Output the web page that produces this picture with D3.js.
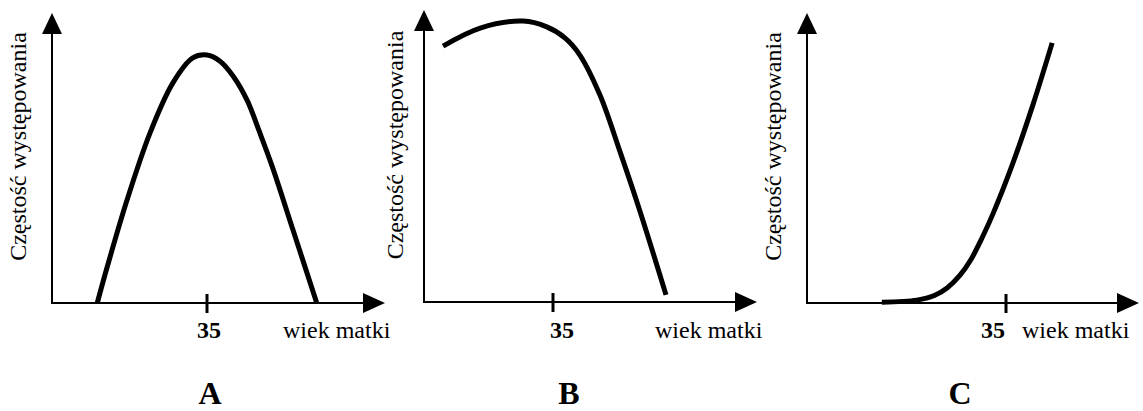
<!DOCTYPE html>
<html lang="pl">
  <head>
    <title>Częstość występowania a wiek matki</title>
    <meta charset="utf-8">
    <script src="https://d3js.org/d3.v7.min.js"></script>
    <style>
      body { margin: 0; background: #fff; }
      text { font-family: "Liberation Serif", "Times New Roman", serif; fill: #000; }
    </style>
  </head>
  <body>
    <svg></svg>

    <script>
      // dane (wiek matki, częstość w jednostkach względnych)
      const litery = ['A', 'B', 'C']
      const podpisX = 'wiek matki'
      const podpisY = 'Częstość występowania'
      const znacznik = 35

      const wiekA = [17.3, 18.9, 22.1, 25.8, 29.5, 32.7, 35.0, 37.1, 39.2, 41.5, 43.5, 45.5, 48.9, 52.7]
      const czestoscA = [0, 12.4, 35.5, 58.6, 75.9, 84.5, 85.5, 83.4, 78.3, 69.8, 58.8, 47.2, 25.0, 0]

      const wiekB = [13.7, 20.9, 29.2, 33.8, 37.3, 40.2, 44.1, 48.0, 51.9, 56.9]
      const czestoscB = [88.6, 94.8, 97.2, 95.2, 91.4, 85.5, 71.7, 52.1, 31.4, 2.8]

      const wiekC = [19.4, 23.8, 26.0, 27.6, 29.2, 30.6, 32.0, 33.4, 35.9, 38.4, 40.8]
      const czestoscC = [0.3, 1.0, 2.6, 5.2, 9.5, 15.0, 22.5, 31.0, 48.5, 68.5, 89.7]

      const serie = [
        d3.zip(wiekA, czestoscA),
        d3.zip(wiekB, czestoscB),
        d3.zip(wiekC, czestoscC)
      ]

      // układ paneli
      const panele = [
        { x0: 52, xKoniec: 385, xZnacznik: 207, os: 303, gora: 13, etykietaY: 26, dx35: 2, xPodpis: 283, xLitera: 210 },
        { x0: 424, xKoniec: 757, xZnacznik: 553, os: 302, gora: 10, etykietaY: 403, dx35: 9, xPodpis: 655, xLitera: 569 },
        { x0: 807, xKoniec: 1139, xZnacznik: 1006, os: 303, gora: 13, etykietaY: 781, dx35: -13, xPodpis: 1022, xLitera: 960 }
      ]

      const svg = d3.select('svg')
        .attr('width', 1143)
        .attr('height', 411)

      const y = d3.scaleLinear()
        .domain([0, 100])
        .range([303, 13])

      panele.forEach((p, i) => {
        const g = svg.append('g')

        // skala wieku: 10 lat w początku osi, 35 lat przy znaczniku
        const x = d3.scaleLinear()
          .domain([10, znacznik])
          .range([p.x0, p.xZnacznik])

        // osie ze strzałkami
        g.append('line')
          .attr('x1', p.x0).attr('y1', p.os)
          .attr('x2', p.xKoniec - 20).attr('y2', p.os)
          .attr('stroke', '#000')
          .attr('stroke-width', 2)

        g.append('line')
          .attr('x1', p.x0).attr('y1', p.os + 1)
          .attr('x2', p.x0).attr('y2', p.gora + 19)
          .attr('stroke', '#000')
          .attr('stroke-width', 2)

        g.append('path')
          .attr('d', `M${p.xKoniec},${p.os} L${p.xKoniec - 22},${p.os - 10} L${p.xKoniec - 22},${p.os + 10} Z`)
          .attr('fill', '#000')

        g.append('path')
          .attr('d', `M${p.x0},${p.gora} L${p.x0 - 10},${p.gora + 21} L${p.x0 + 10},${p.gora + 21} Z`)
          .attr('fill', '#000')

        // znacznik 35
        g.append('line')
          .attr('x1', x(znacznik)).attr('y1', p.os - 9)
          .attr('x2', x(znacznik)).attr('y2', p.os + 10)
          .attr('stroke', '#000')
          .attr('stroke-width', 3)

        g.append('text')
          .attr('x', x(znacznik) + p.dx35)
          .attr('y', 338)
          .attr('text-anchor', 'middle')
          .style('font-size', '24px')
          .style('font-weight', 'bold')
          .text(znacznik)

        g.append('text')
          .attr('x', p.xPodpis)
          .attr('y', 338)
          .style('font-size', '24px')
          .text(podpisX)

        g.append('text')
          .attr('transform', `translate(${p.etykietaY}, ${(p.gora + 20 + 260) / 2}) rotate(-90)`)
          .attr('text-anchor', 'middle')
          .style('font-size', '24px')
          .text(podpisY)

        // krzywa
        const linia = d3.line()
          .x(d => x(d[0]))
          .y(d => y(d[1]))
          .curve(d3.curveCatmullRom.alpha(0.5))

        g.append('path')
          .datum(serie[i])
          .attr('d', linia)
          .attr('fill', 'none')
          .attr('stroke', '#000')
          .attr('stroke-width', 5)

        g.append('text')
          .attr('x', p.xLitera)
          .attr('y', 404)
          .attr('text-anchor', 'middle')
          .style('font-size', '32px')
          .style('font-weight', 'bold')
          .text(litery[i])
      })
    </script>
  </body>
</html>
